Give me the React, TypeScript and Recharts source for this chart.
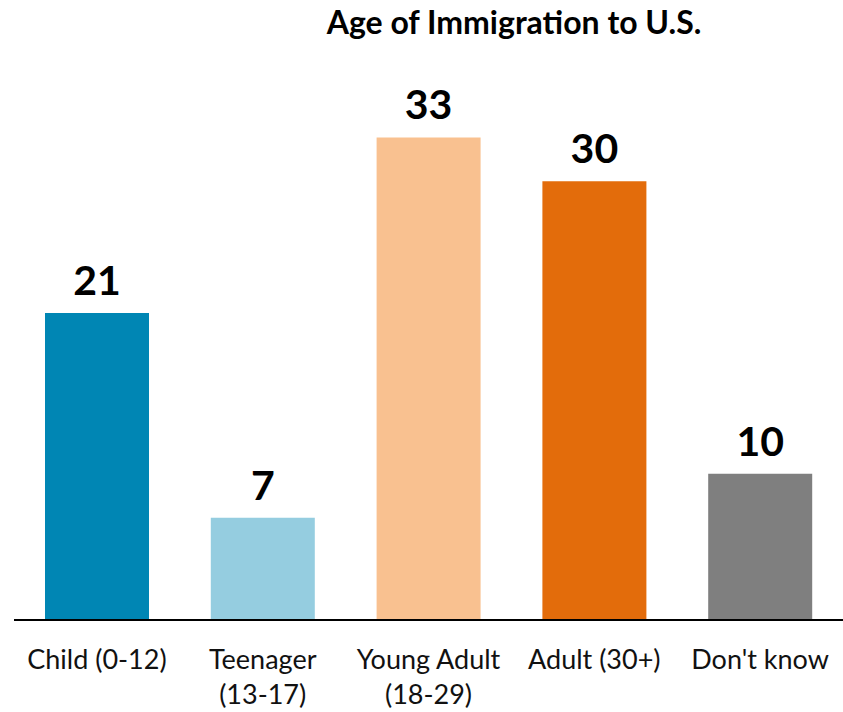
import React from 'react'
import { BarChart, Bar, XAxis, YAxis, Cell, LabelList } from 'recharts'

const categories = ['Child (0-12)', 'Teenager\n(13-17)', 'Young Adult\n(18-29)', 'Adult (30+)', "Don't know"]
const values = [21, 7, 33, 30, 10]
const colors = ['#0086b4', '#95cde0', '#f9c190', '#e36c0b', '#7f7f7f']

const data = categories.map((name, i) => ({ name, value: values[i] }))

const FONT = 'Lato, "Open Sans", sans-serif'

if (typeof document !== 'undefined') {
  document.body.style.margin = '0'
}

const Tick = ({ x, y, payload }: any) => {
  const lines = String(payload.value).split('\n')
  return (
    <text x={x} y={y} textAnchor="middle" fill="#111" fontSize={27} fontFamily={FONT}>
      {lines.map((line, i) => (
        <tspan key={i} x={x} dy={i === 0 ? 41 : 35}>
          {line}
        </tspan>
      ))}
    </text>
  )
}

const ValueLabel = ({ x, y, width, value }: any) => (
  <text
    x={x + width / 2}
    y={y - 18}
    textAnchor="middle"
    fill="#000"
    fontSize={41}
    fontWeight={700}
    fontFamily={FONT}
  >
    {value}
  </text>
)

export default function App() {
  return (
    <div style={{ position: 'relative', width: 843, height: 712, background: '#fff' }}>
      <div
        style={{
          position: 'absolute',
          top: 2,
          left: 0,
          width: 1028,
          textAlign: 'center',
          fontFamily: FONT,
          fontWeight: 700,
          fontSize: 32,
          color: '#000',
        }}
      >
        Age of Immigration to U.S.
      </div>
      <BarChart
        width={843}
        height={712}
        data={data}
        margin={{ top: 35, right: 0, left: 14, bottom: 0 }}
        barSize={104}
      >
        <XAxis
          dataKey="name"
          height={92}
          axisLine={{ stroke: '#000', strokeWidth: 2 }}
          tickLine={false}
          interval={0}
          tick={<Tick />}
        />
        <YAxis hide domain={[0, 40]} />
        <Bar dataKey="value" isAnimationActive={false}>
          {data.map((d, i) => (
            <Cell key={d.name} fill={colors[i]} />
          ))}
          <LabelList dataKey="value" content={<ValueLabel />} />
        </Bar>
      </BarChart>
    </div>
  )
}
